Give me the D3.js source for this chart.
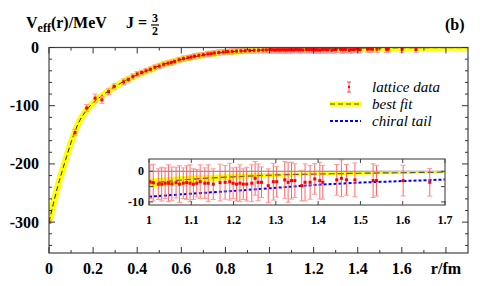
<!DOCTYPE html>
<html><head><meta charset="utf-8">
<script src="https://cdn.jsdelivr.net/npm/d3@7"></script>
<style>body{margin:0;background:#fff}svg{display:block}</style>
</head><body>
<script>
// ---- data ----
const rData = [0, 0.118, 0.171, 0.209, 0.24, 0.27, 0.295, 0.338, 0.36, 0.38, 0.40, 0.42, 0.44, 0.46, 0.48, 0.50,
  0.52, 0.54, 0.555, 0.57, 0.59, 0.61, 0.63, 0.645, 0.66, 0.68, 0.70, 0.72, 0.735, 0.75, 0.77, 0.79, 0.81, 0.83,
  0.85, 0.87, 0.89, 0.91, 0.93, 0.95, 0.97, 0.985,
  1.002, 1.010, 1.022, 1.030, 1.038, 1.046, 1.054, 1.064, 1.072, 1.081, 1.089, 1.097, 1.105, 1.113, 1.121, 1.132,
  1.140, 1.152, 1.168, 1.180, 1.191, 1.199, 1.207, 1.215, 1.223, 1.231, 1.243, 1.251, 1.258, 1.266, 1.282, 1.294,
  1.302, 1.321, 1.329, 1.337, 1.345, 1.361, 1.369, 1.381, 1.392, 1.404, 1.411, 1.444, 1.455, 1.467, 1.487, 1.530,
  1.538, 1.601, 1.664];
const vData = [-300, -146, -104, -87, -90, -76, -67, -59, -55, -50, -45.5, -43, -40, -37.5, -34, -32,
  -29, -27, -26, -24, -21, -19, -17.5, -16.5, -15, -13.5, -12.5, -11, -10.5, -9.5, -8.5, -7.8, -7, -6.8,
  -6.2, -5.8, -5.5, -5.2, -4.8, -4.6, -4.4, -4.1,
  -3.4, -3.7, -4.2, -4.2, -3.9, -3.9, -4.1, -3.7, -4.2, -3.9, -3.7, -3.9, -4.2, -3.9, -3.4, -3.9,
  -3.9, -4.2, -3.7, -3.6, -3.4, -3.9, -4.2, -3.9, -4.2, -4.2, -3.9, -2.3, -3.6, -3.6, -4.7, -3.4,
  -3.4, -2.8, -3.6, -3.05, -3.05, -4.7, -3.6, -3.6, -2.5, -3.05, -3.6, -2.8, -2.3, -2.8, -2.8, -3.05,
  -3.05, -3.05, -3.6];
const eData = [2, 5.5, 6, 7, 6, 5, 4.5, 5, 4, 4.5, 4, 4, 4, 4, 4, 4,
  4, 4, 4.5, 4, 4, 4.5, 4, 4, 4.5, 4, 4, 4.5, 4, 4, 4.5, 4, 4, 4.5,
  4, 4.5, 4, 4.5, 5, 4.5, 5, 5,
  5.5, 6, 5, 5.5, 5, 6, 5.5, 5, 6, 5, 5.5, 6, 5, 4.5, 5.5, 5,
  6, 5, 6, 5.5, 6, 5, 5.5, 6, 5, 5.5, 6, 5.5, 6, 5, 5.5, 6,
  5, 6, 6.5, 6, 5.5, 5, 6, 5.5, 5, 6, 5.5, 5, 6, 5, 5.5, 5.5,
  5, 5, 4.5];
const fitR = [0, 0.02, 0.04, 0.06, 0.08, 0.1, 0.12, 0.14, 0.16, 0.18, 0.2, 0.25, 0.3, 0.35, 0.4, 0.45, 0.5,
  0.55, 0.6, 0.65, 0.7, 0.75, 0.8, 0.9, 1.0, 1.1, 1.2, 1.3, 1.4, 1.5, 1.6, 1.7, 1.8, 1.9];
const fitV = [-300, -268, -238, -212, -187, -163, -142, -125, -113, -103, -95, -80, -67, -56, -47, -39, -31.5,
  -25.5, -20.5, -16.5, -13, -10.3, -8.2, -5.6, -3.9, -2.6, -1.8, -1.2, -0.9, -0.65, -0.45, -0.3, -0.2, -0.12];
const bandR = [1.0, 1.1, 1.2, 1.3, 1.4, 1.5, 1.6, 1.7];
const bandFit = [-3.9, -2.6, -1.8, -1.2, -0.9, -0.65, -0.45, -0.3];
const bandErr = [1.5, 1.2, 0.9, 0.7, 0.6, 0.5, 0.45, 0.4];
const chiralR = [1.0, 1.1, 1.2, 1.3, 1.4, 1.5, 1.6, 1.7];
const chiralV = [-8.3, -7.3, -6.4, -5.4, -4.4, -3.7, -3.2, -2.7];
const xTicks = [0, 0.2, 0.4, 0.6, 0.8, 1, 1.2, 1.4, 1.6];
const yTicks = [0, -100, -200, -300];
const insetXTicks = [1, 1.1, 1.2, 1.3, 1.4, 1.5, 1.6, 1.7];
const insetYTicks = [0, -10];
const legendLabels = ["lattice data", "best fit", "chiral tail"];

const W = 497, H = 286;
const SERIF = "'Liberation Serif', 'Times New Roman', Times, serif";
const svg = d3.select("body").append("svg").attr("width", W).attr("height", H)
  .attr("font-family", SERIF).style("font-family", SERIF);
const pts = rData.map((r, i) => ({r, v: vData[i], e: eData[i]}));
const fit = fitR.map((r, i) => ({r, v: fitV[i]}));

// ---- main plot ----
const x = d3.scaleLinear([0, 1.9], [49, 468]);
const y = d3.scaleLinear([-353, 0], [253, 47.5]);
svg.append("clipPath").attr("id", "mc").append("rect")
  .attr("x", 49).attr("y", 47.5).attr("width", 419).attr("height", 205.5);
const gm = svg.append("g").attr("clip-path", "url(#mc)");
const lineM = d3.line().x(d => x(d.r)).y(d => y(d.v)).curve(d3.curveMonotoneX);
gm.append("path").attr("d", lineM(fit)).attr("fill", "none").attr("stroke", "#ffff00").attr("stroke-width", 6.5);
gm.append("path").attr("d", lineM(fit)).attr("fill", "none").attr("stroke", "#222").attr("stroke-width", 1)
  .attr("stroke-dasharray", "5,3");
function drawPoints(g, xs, ys, data, cap) {
  const sel = g.selectAll(null).data(data).join("g");
  sel.append("line").attr("x1", d => xs(d.r)).attr("x2", d => xs(d.r))
    .attr("y1", d => ys(d.v - d.e)).attr("y2", d => ys(d.v + d.e)).attr("stroke", "#f66").attr("stroke-width", 1);
  sel.append("line").attr("x1", d => xs(d.r) - cap).attr("x2", d => xs(d.r) + cap)
    .attr("y1", d => ys(d.v + d.e)).attr("y2", d => ys(d.v + d.e)).attr("stroke", "#f99").attr("stroke-width", 1);
  sel.append("line").attr("x1", d => xs(d.r) - cap).attr("x2", d => xs(d.r) + cap)
    .attr("y1", d => ys(d.v - d.e)).attr("y2", d => ys(d.v - d.e)).attr("stroke", "#f99").attr("stroke-width", 1);
  sel.append("rect").attr("x", d => xs(d.r) - 1.5).attr("y", d => ys(d.v) - 1.5)
    .attr("width", 3).attr("height", 3).attr("fill", "#f00");
}
drawPoints(gm, x, y, pts, 2.5);

// frame and ticks
svg.append("rect").attr("x", 49).attr("y", 47.5).attr("width", 419).attr("height", 205.5)
  .attr("fill", "none").attr("stroke", "#444").attr("stroke-width", 1.2);
const tk = svg.append("g").attr("stroke", "#333").attr("stroke-width", 1);
d3.range(0, 19).forEach(i => {
  const v = i / 10, px = x(v), L = (i % 2 === 0) ? 6 : 3;
  tk.append("line").attr("x1", px).attr("x2", px).attr("y1", 253).attr("y2", 253 - L);
  tk.append("line").attr("x1", px).attr("x2", px).attr("y1", 47.5).attr("y2", 47.5 + L);
});
d3.range(0, 18).forEach(i => {
  const v = -i * 20, py = y(v), L = (i % 5 === 0) ? 6 : 3;
  tk.append("line").attr("x1", 49).attr("x2", 49 + L).attr("y1", py).attr("y2", py);
  tk.append("line").attr("x1", 468).attr("x2", 468 - L).attr("y1", py).attr("y2", py);
});
svg.selectAll(null).data(xTicks).join("text").attr("x", d => x(d)).attr("y", 274)
  .attr("text-anchor", "middle").attr("font-size", 16).attr("font-weight", "bold").text(d => d3.format("~g")(d));
svg.append("text").attr("x", x(1.8)).attr("y", 274).attr("text-anchor", "middle")
  .attr("font-size", 16).attr("font-weight", "bold").text("r/fm");
svg.selectAll(null).data(yTicks).join("text").attr("x", 39).attr("y", d => y(d) + 5.5)
  .attr("text-anchor", "end").attr("font-size", 16).attr("font-weight", "bold").text(d => d);

// title
const t = svg.append("text").attr("x", 26).attr("y", 28).attr("font-size", 16).attr("font-weight", "bold");
t.append("tspan").text("V");
t.append("tspan").attr("dy", 4).attr("font-size", 12).text("eff");
t.append("tspan").attr("dy", -4).text("(r)/MeV");
svg.append("text").attr("x", 126).attr("y", 28).attr("font-size", 16).attr("font-weight", "bold").text("J =");
svg.append("text").attr("x", 155).attr("y", 22).attr("text-anchor", "middle").attr("font-size", 12).attr("font-weight", "bold").text("3");
svg.append("line").attr("x1", 151).attr("x2", 159).attr("y1", 25).attr("y2", 25).attr("stroke", "#000").attr("stroke-width", 1.2);
svg.append("text").attr("x", 155).attr("y", 35).attr("text-anchor", "middle").attr("font-size", 12).attr("font-weight", "bold").text("2");
svg.append("text").attr("x", 445).attr("y", 30).attr("font-size", 16).attr("font-weight", "bold").text("(b)");

// legend
const lg = svg.append("g");
const ly = [87, 104, 121];
lg.append("line").attr("x1", 349).attr("x2", 349).attr("y1", ly[0] - 5).attr("y2", ly[0] + 5).attr("stroke", "#f44");
lg.append("line").attr("x1", 347).attr("x2", 351).attr("y1", ly[0] - 5).attr("y2", ly[0] - 5).attr("stroke", "#f44");
lg.append("line").attr("x1", 347).attr("x2", 351).attr("y1", ly[0] + 5).attr("y2", ly[0] + 5).attr("stroke", "#f44");
lg.append("rect").attr("x", 348).attr("y", ly[0] - 1).attr("width", 2).attr("height", 2).attr("fill", "#f00");
lg.append("line").attr("x1", 330).attr("x2", 361).attr("y1", ly[1]).attr("y2", ly[1]).attr("stroke", "#ffff00").attr("stroke-width", 5);
lg.append("line").attr("x1", 330).attr("x2", 361).attr("y1", ly[1]).attr("y2", ly[1]).attr("stroke", "#8a8a00").attr("stroke-width", 1.5).attr("stroke-dasharray", "5,3");
lg.append("line").attr("x1", 330).attr("x2", 361).attr("y1", ly[2]).attr("y2", ly[2]).attr("stroke", "#00f").attr("stroke-width", 2).attr("stroke-dasharray", "3,2");
lg.selectAll(null).data(legendLabels).join("text").attr("x", 372).attr("y", (d, i) => ly[i] + 5)
  .attr("font-size", 15).attr("font-style", "italic").text(d => d);

// ---- inset ----
const xi = d3.scaleLinear([1, 1.7], [149, 445]);
const yi = d3.scaleLinear([-11, 4], [205, 159]);
svg.append("rect").attr("x", 149).attr("y", 159).attr("width", 296).attr("height", 46).attr("fill", "#fff");
svg.append("clipPath").attr("id", "ic").append("rect").attr("x", 149).attr("y", 159).attr("width", 296).attr("height", 46);
const gi = svg.append("g").attr("clip-path", "url(#ic)");
gi.append("line").attr("x1", 149).attr("x2", 445).attr("y1", yi(0)).attr("y2", yi(0)).attr("stroke", "#777").attr("stroke-width", 1.2);
const band = bandR.map((r, i) => ({r, v: bandFit[i], e: bandErr[i]}));
gi.append("path").attr("d", d3.area().x(d => xi(d.r)).y0(d => yi(d.v - d.e)).y1(d => yi(d.v + d.e)).curve(d3.curveMonotoneX)(band))
  .attr("fill", "#ffff00");
gi.append("path").attr("d", d3.line().x(d => xi(d.r)).y(d => yi(d.v)).curve(d3.curveMonotoneX)(band))
  .attr("fill", "none").attr("stroke", "#555").attr("stroke-width", 1.2).attr("stroke-dasharray", "6,3");
gi.append("path").attr("d", d3.line().x(d => xi(d.r)).y(d => yi(d.v)).curve(d3.curveMonotoneX)(chiralR.map((r, i) => ({r, v: chiralV[i]}))))
  .attr("fill", "none").attr("stroke", "#00f").attr("stroke-width", 2).attr("stroke-dasharray", "3,2");
drawPoints(gi, xi, yi, pts.filter(d => d.r >= 1), 2.5);
svg.append("rect").attr("x", 149).attr("y", 159).attr("width", 296).attr("height", 46)
  .attr("fill", "none").attr("stroke", "#555").attr("stroke-width", 1.2);
const tki = svg.append("g").attr("stroke", "#444");
insetXTicks.forEach(v => {
  tki.append("line").attr("x1", xi(v)).attr("x2", xi(v)).attr("y1", 205).attr("y2", 201);
  tki.append("line").attr("x1", xi(v)).attr("x2", xi(v)).attr("y1", 159).attr("y2", 163);
});
[-10, -5, 0].forEach(v => {
  tki.append("line").attr("x1", 149).attr("x2", 153).attr("y1", yi(v)).attr("y2", yi(v));
  tki.append("line").attr("x1", 445).attr("x2", 441).attr("y1", yi(v)).attr("y2", yi(v));
});
svg.selectAll(null).data(insetXTicks).join("text").attr("x", d => xi(d)).attr("y", 224)
  .attr("text-anchor", "middle").attr("font-size", 12).attr("font-weight", "bold").text(d => d3.format("~g")(d));
svg.selectAll(null).data(insetYTicks).join("text").attr("x", 144).attr("y", d => yi(d) + 4)
  .attr("text-anchor", "end").attr("font-size", 12).attr("font-weight", "bold").text(d => d);
</script>
</body></html>
